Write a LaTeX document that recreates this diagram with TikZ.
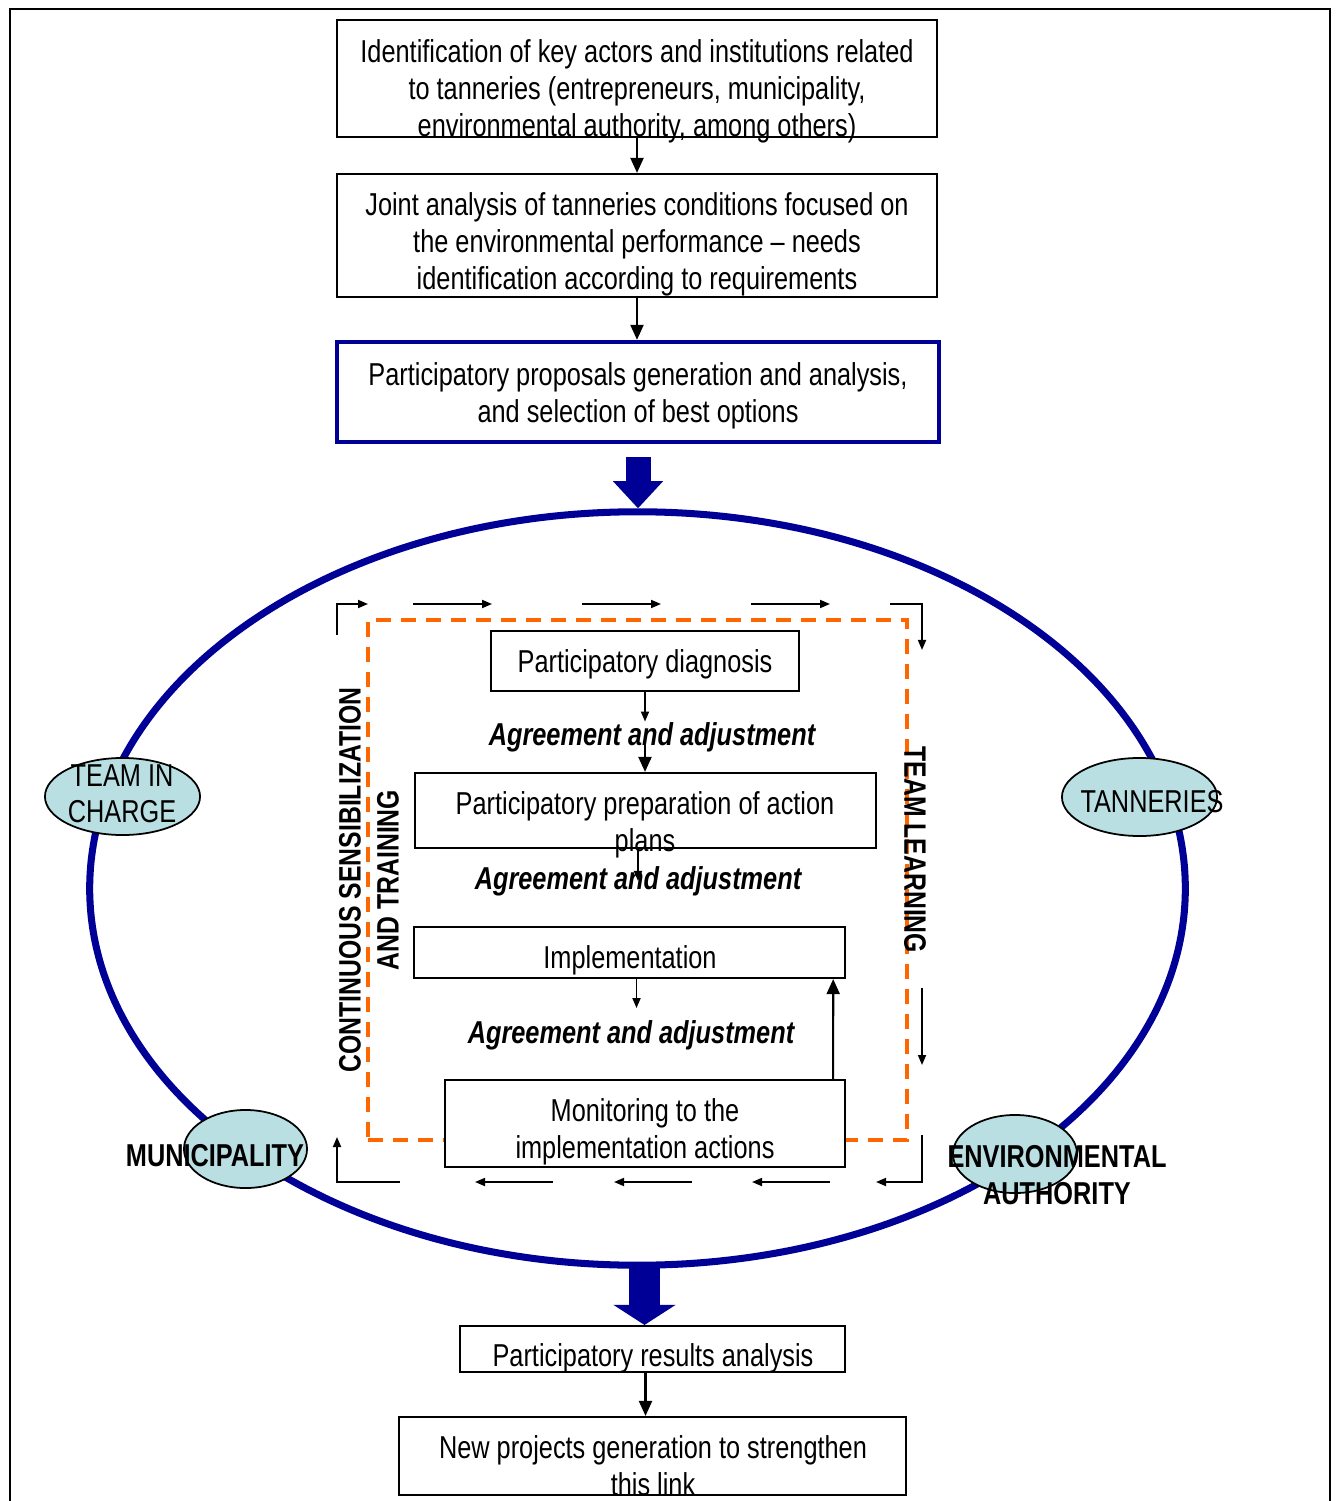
\documentclass[tikz,border=0pt]{standalone}
\usepackage{fontspec}
\setmainfont[FakeStretch=0.8]{Liberation Sans}
\usetikzlibrary{shapes.geometric,arrows.meta,calc}

\definecolor{navy}{RGB}{0,0,150}
\definecolor{paleblue}{RGB}{185,223,227}
\definecolor{dashorange}{RGB}{255,102,0}

\tikzset{
    box/.style={draw,fill=white,line width=0.6pt,inner sep=0pt},
    txt/.style={align=center,inner sep=0pt,font=\fontsize{9}{10.5}\selectfont},
    agree/.style={inner sep=0pt,font=\fontsize{9}{10.5}\selectfont\bfseries\itshape},
    actor/.style={ellipse,draw,fill=paleblue,line width=0.5pt,inner sep=0pt},
    actortxt/.style={align=center,inner sep=0pt,font=\fontsize{9}{10.3}\selectfont},
    actorbold/.style={actortxt,font=\fontsize{9}{10.5}\selectfont\bfseries},
    vert/.style={align=center,inner sep=0pt,font=\fontsize{8.8}{10.8}\selectfont\bfseries},
    flow/.style={-{Triangle[length=0.15cm,width=0.13cm]},line width=0.6pt},
    link/.style={-{Triangle[length=0.1cm,width=0.08cm]},line width=0.5pt},
    cyc/.style={-{Triangle[length=0.1cm,width=0.08cm]},line width=0.5pt}
}

\begin{document}
\begin{tikzpicture}[x=0.01cm,y=-0.01cm]
    \useasboundingbox (0,0) rectangle (1337,1501);
    \draw[line width=0.7pt] (10,1501) -- (10,9) -- (1330,9) -- (1330,1501);

    % steps before the cycle
    \node[box,minimum width=6cm,minimum height=1.17cm] (ident) at (637,78.5) {};
    \node[txt] (identtxt) at (637,91) {Identification of key actors and institutions related\\to tanneries (entrepreneurs, municipality,\\environmental authority, among others)};
    \node[box,minimum width=6cm,minimum height=1.23cm] (joint) at (637,235.5) {};
    \node[txt] (jointtxt) at (637,244) {Joint analysis of tanneries conditions focused on\\the environmental performance – needs\\identification according to requirements};
    \node[box,draw=navy,line width=1.2pt,minimum width=6.02cm,minimum height=1cm] (prop) at (638,392) {};
    \node[txt] (proptxt) at (638,396) {Participatory proposals generation and analysis,\\and selection of best options};
    \draw[flow] (ident.south) -- (joint.north);
    \draw[flow] (joint.south) -- (joint.south |- prop.north);

    % the cycle
    \node[ellipse,draw=navy,line width=2pt,minimum width=10.95cm,minimum height=7.53cm] (ring) at (637.5,888.5) {};
    \draw[navy,line width=0.25cm,-{Triangle[length=0.27cm,width=0.5cm,line width=0pt]},shorten <=0.13cm] (prop.south) -- (prop.south |- ring.north);
    \node[draw=dashorange,dash pattern=on 0.15cm off 0.1cm,line width=1.1pt,minimum width=5.39cm,minimum height=5.2cm] (learn) at (637.5,880) {};

    \draw[cyc] (337,635) -- (337,604) -- (368,604);
    \foreach \x in {413,582,751}
        \draw[cyc] (\x,604) -- ++(79,0);
    \draw[cyc] (890,604) -- (922,604) -- (922,650);
    \draw[cyc] (922,988) -- (922,1065);
    \draw[cyc] (922,1135) -- (922,1182) -- (876,1182);
    \foreach \x in {830,692,553}
        \draw[cyc] (\x,1182) -- ++(-78,0);
    \draw[cyc] (400,1182) -- (337,1182) -- (337,1137);

    \node[box,minimum width=3.08cm,minimum height=0.6cm] (diag) at (645,661) {};
    \node[txt] (diagtxt) at (645,664) {Participatory diagnosis};
    \node[agree] (agreeA) at (652,737) {Agreement and adjustment};
    \node[box,minimum width=4.61cm,minimum height=0.75cm] (prep) at (645.5,810.5) {};
    \node[txt] (preptxt) at (645,825) {Participatory preparation of action\\plans};
    \node[agree] (agreeB) at (638,881) {Agreement and adjustment};
    \node[box,minimum width=4.31cm,minimum height=0.51cm] (impl) at (629.5,952.5) {};
    \node[txt] (impltxt) at (630,960) {Implementation};
    \node[agree] (agreeC) at (631,1035) {Agreement and adjustment};
    \node[box,minimum width=4cm,minimum height=0.87cm] (moni) at (645,1123.5) {};
    \node[txt] (monitxt) at (645,1132) {Monitoring to the\\implementation actions};

    \draw[link] (diag.south) -- (diag.south |- agreeA.north);
    \draw[flow] (diag.south |- agreeA.base) -- (diag.south |- prep.north);
    \draw[link] (prep.south -| agreeB.center) -- (agreeB.center);
    \draw[link] ($(impl.south)+(7,0)$) -- ++(0,29);
    \draw[flow] ($(moni.north east)+(-13,0)$) -- ($(impl.south east)+(-13,0)$);

    \node[vert,rotate=90] (sens) at (369,880) {CONTINUOUS SENSIBILIZATION\\AND TRAINING};
    \node[vert,rotate=-90] (teamlearn) at (915,850) {TEAM LEARNING};

    % actors on the ring
    \node[actor,minimum width=1.55cm,minimum height=0.77cm] (team) at (122.5,796.5) {};
    \node[actortxt] (teamtxt) at (122,794) {TEAM IN\\CHARGE};
    \node[actor,minimum width=1.55cm,minimum height=0.78cm] (tann) at (1139.5,797) {};
    \node[actortxt] (tanntxt) at (1152,802) {TANNERIES};
    \node[actor,minimum width=1.23cm,minimum height=0.78cm] (muni) at (245.5,1149) {};
    \node[actorbold] (munitxt) at (215,1156) {MUNICIPALITY};
    \node[actor,minimum width=1.24cm,minimum height=0.78cm] (env) at (1015,1154) {};
    \node[actorbold] (envtxt) at (1057,1175) {ENVIRONMENTAL\\AUTHORITY};

    % after the cycle
    \node[box,minimum width=3.85cm,minimum height=0.46cm] (results) at (652.5,1349) {};
    \node[txt] (resultstxt) at (653,1358) {Participatory results analysis};
    \node[box,minimum width=5.07cm,minimum height=0.78cm] (newproj) at (652.5,1456) {};
    \node[txt] (newprojtxt) at (653,1466) {New projects generation to strengthen\\this link};
    \coordinate (ringout) at ($(ring.south)+(7,-4)$);
    \draw[navy,line width=0.31cm,-{Triangle[length=0.2cm,width=0.62cm,line width=0pt]}] (ringout) -- (ringout |- results.north);
    \draw[flow] ($(results.south)+(-7,0)$) -- ($(newproj.north)+(-7,0)$);
\end{tikzpicture}
\end{document}
